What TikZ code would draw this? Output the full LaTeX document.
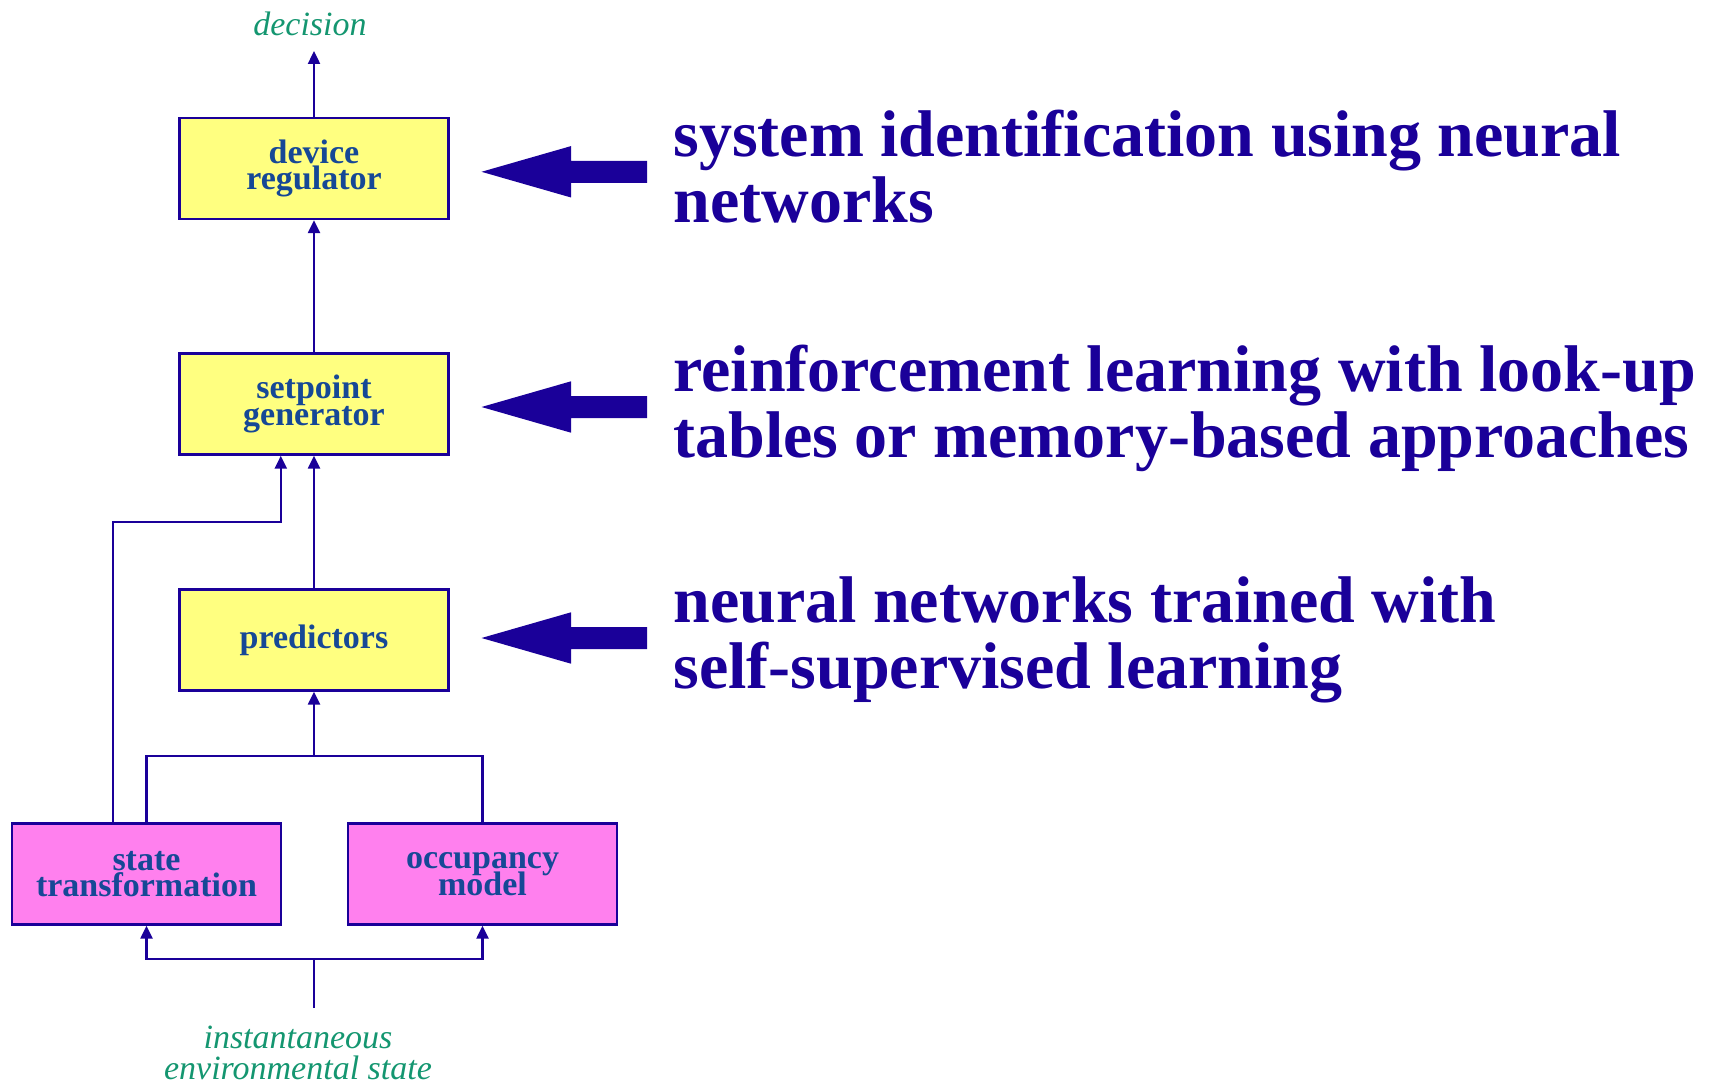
\documentclass[tikz,border=0pt]{standalone}
\usepackage{fontspec}
\setmainfont{Liberation Serif}
\usetikzlibrary{arrows.meta,calc}
\definecolor{ind}{RGB}{26,0,153}
\definecolor{boxtext}{RGB}{22,72,150}
\definecolor{yel}{RGB}{255,255,128}
\definecolor{mag}{RGB}{255,128,238}
\definecolor{grn}{RGB}{20,150,112}
\newcommand\myboxfont{\fontsize{17}{13.2}\selectfont\bfseries\lineskiplimit=-100pt\relax\lineskip=0pt\relax}
\tikzset{
  box/.style={draw=ind, line width=1.2pt, minimum width=134.5pt, minimum height=50.5pt,
    inner sep=0pt, align=center, text=boxtext, font=\myboxfont},
  ybox/.style={box, fill=yel},
  mbox/.style={box, fill=mag},
  conn/.style={draw=ind, line width=1.2pt},
  arr/.style={conn, -{Triangle[width=6pt,length=6.5pt]}},
  lbl/.style={text=grn, inner sep=0pt, align=center,
    font=\fontsize{17}{15.9}\selectfont\itshape},
  bigtxt/.style={text=ind, inner sep=0pt, align=left, anchor=base west,
    font=\fontsize{33}{32.8}\selectfont\bfseries},
  bigarrow/.style={fill=ind}
}
\begin{document}
\begin{tikzpicture}[x=0.5pt,y=-0.5pt]
\useasboundingbox (0,0) rectangle (1716,1085);

% boxes
\node[ybox] (dev) at (314,168.5) {device\\regulator};
\node[ybox] (set) at (314,404) {setpoint\\generator};
\node[ybox] (pred) at (314,640) {predictors};
\node[mbox] (state) at (146.5,874) {state\\transformation};
\node[mbox] (occ) at (482.5,874) {occupancy\\model};

% labels
\node[lbl] (dec) at (310,24) {decision};
\node[lbl] (inst) at (298,1053) {instantaneous\\environmental state};
\coordinate (dectop) at (314,51);
\coordinate (envtop) at (314,1008);

% connectors
\draw[arr] (dev.north) -- (dectop);
\draw[arr] (set.north) -- (dev.south);
\draw[arr] (pred.north) -- (set.south);
\coordinate (sA) at ([xshift=-16.9pt]state.north);
\coordinate (sB) at ([xshift=-16.6pt]set.south);
\draw[arr] (sA) -- (sA |- 0,522) -| (sB);
\draw[conn] (state.north) -- (state.north |- 0,756) -| (occ.north);
\draw[arr] (pred.south |- 0,756) -- (pred.south);
\draw[conn] (envtop) -- (envtop |- 0,958.7);
\draw[arr] (envtop |- 0,958.7) -| (state.south);
\draw[arr] (envtop |- 0,958.7) -| (occ.south);

% texts (base = baseline of last line)
\node[bigtxt] (t1) at (673,222.2) {system identification using neural\\networks};
\node[bigtxt] (t2) at (673,457.5) {reinforcement learning with look-up\\tables or memory-based approaches};
\node[bigtxt] (t3) at (673,688.4) {neural networks trained with\\self-supervised learning};

% big arrows
\foreach \c in {171.8,407,638}{
  \fill[bigarrow] (481.5,\c) -- (571,\c-25.7) -- (571,\c-11) -- (647,\c-11)
    -- (647,\c+11) -- (571,\c+11) -- (571,\c+25.7) -- cycle;
}
\end{tikzpicture}
\end{document}
